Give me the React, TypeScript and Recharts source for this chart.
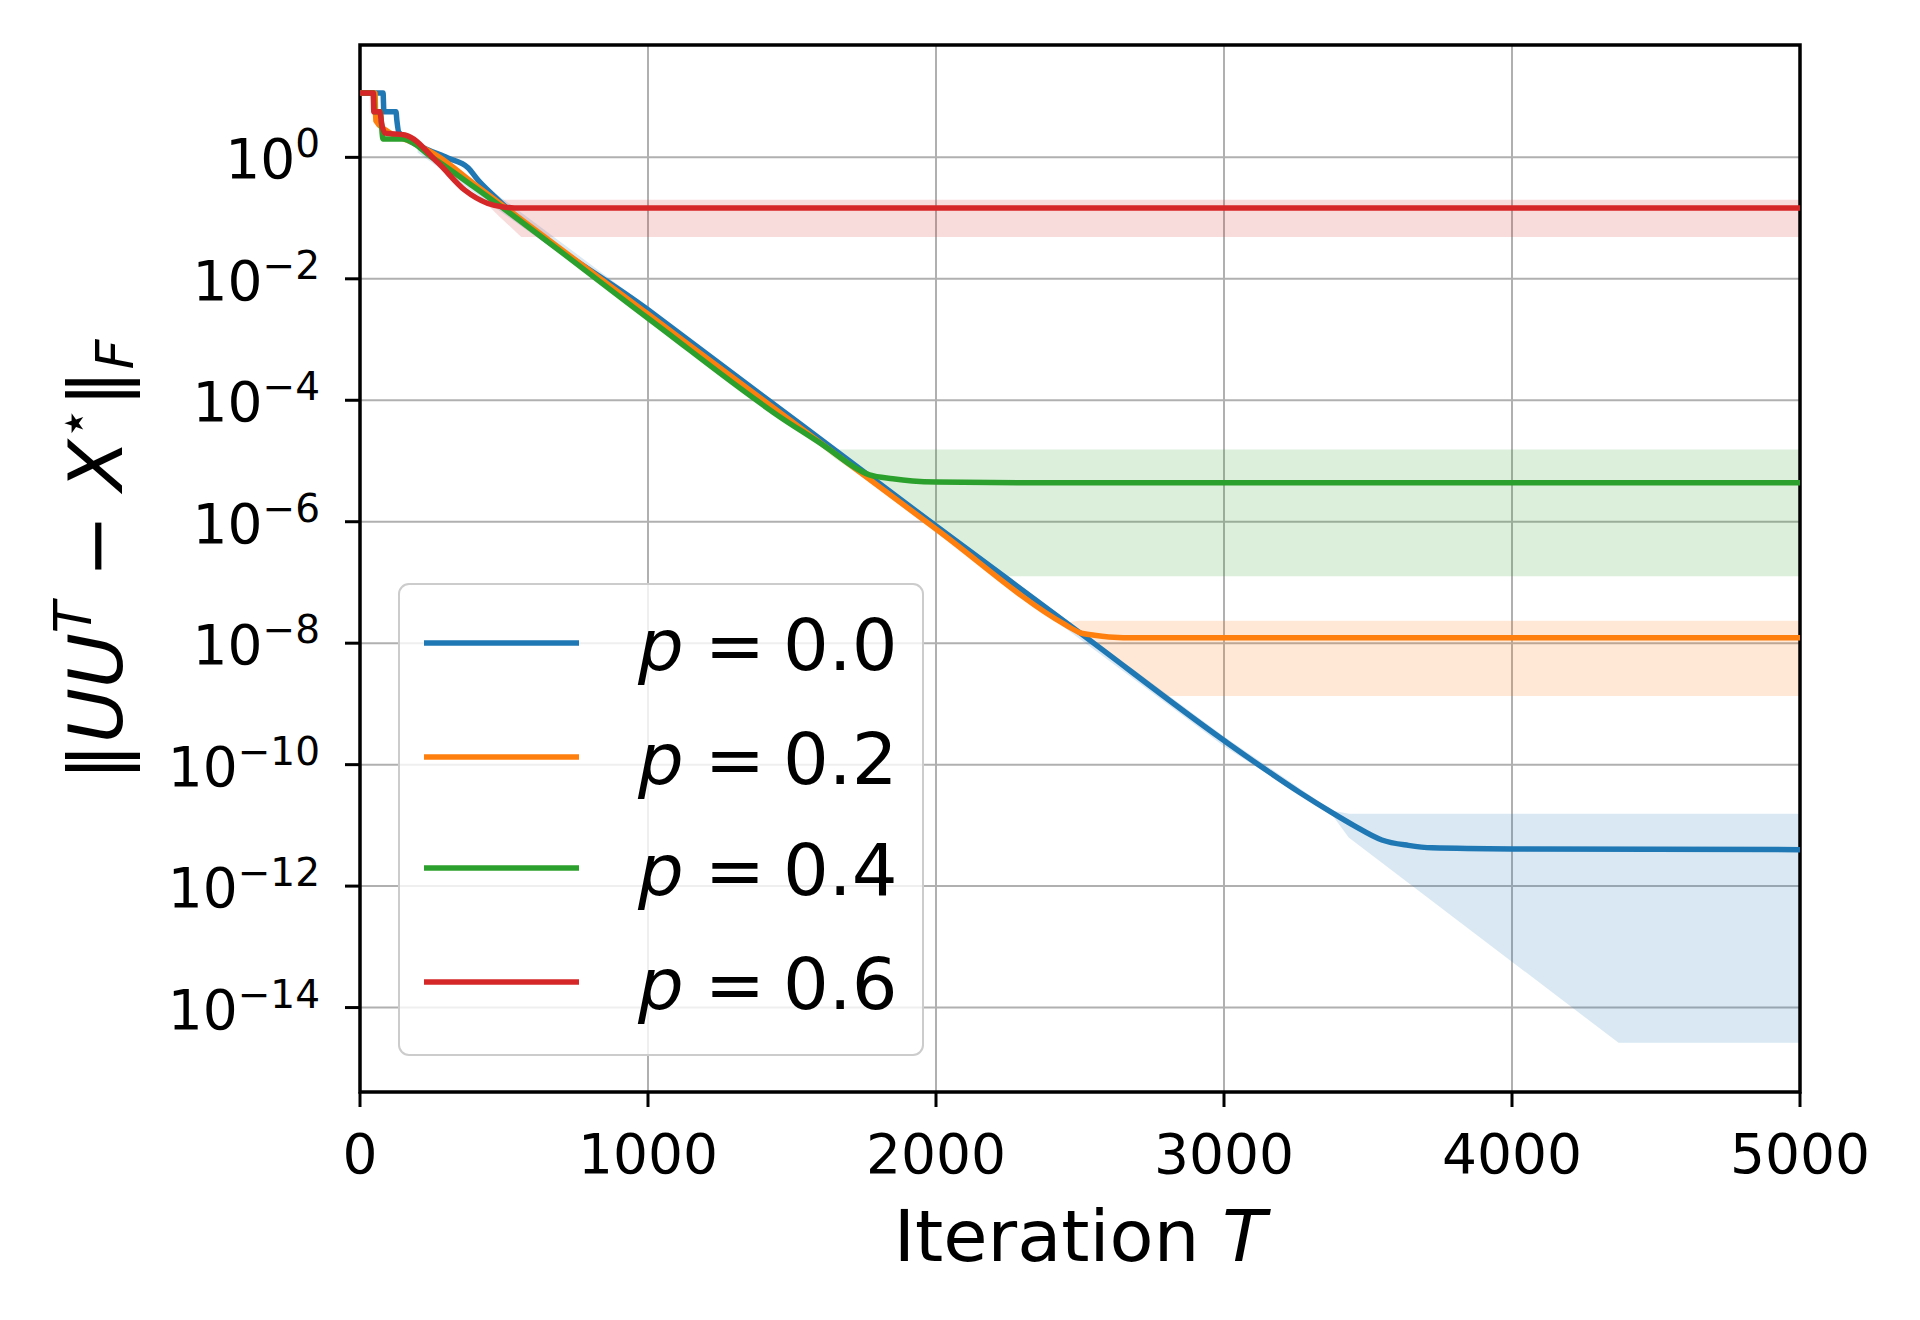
import React from 'react';
import { ComposedChart, Line, Area, XAxis, YAxis, CartesianGrid, ReferenceArea, Legend } from 'recharts';

const xTicks = [0, 1000, 2000, 3000, 4000, 5000];
const yTicks = [1, 1e-2, 1e-4, 1e-6, 1e-8, 1e-10, 1e-12, 1e-14];
const yTickExps = ['0', '−2', '−4', '−6', '−8', '−10', '−12', '−14'];
const yDomain = [4.07e-16, 70.8];
const pLabels = ['0.0', '0.2', '0.4', '0.6'];
const colors = ['#1f77b4', '#ff7f0e', '#2ca02c', '#d62728'];

// mean error, [iteration, ||UU^T - X*||_F]
const meanP00 = [
  [0, 11.5], [80, 11.5], [83, 5.62], [125, 5.62], [128, 4.07], [135, 2.57], [215, 1.48], [305, 0.977],
  [375, 0.676], [409, 0.427], [468, 0.224], [1000, 3.09e-3], [2000, 8.5e-7], [2500, 1.48e-8],
  [3000, 2.5e-10], [3260, 3.55e-11], [3375, 1.62e-11], [3450, 1e-11], [3548, 5.75e-12],
  [3640, 4.68e-12], [3722, 4.27e-12], [4000, 4.1e-12], [5000, 3.98e-12],
];
const meanP02 = [
  [0, 11.5], [52, 11.5], [55, 4.0], [90, 2.8], [180, 1.78], [270, 1.05], [400, 0.355], [1000, 2.63e-3],
  [2000, 7.6e-7], [2450, 2.0e-8], [2497, 1.51e-8], [2550, 1.35e-8], [2600, 1.27e-8], [2700, 1.23e-8],
  [5000, 1.23e-8],
];
const meanP04 = [
  [0, 11.5], [46, 11.5], [50, 5.62], [70, 5.62], [80, 2.0], [150, 2.0], [250, 1.0], [400, 0.316],
  [1000, 2.24e-3], [1457, 5.37e-5], [1630, 1.55e-5], [1700, 8.9e-6], [1769, 5.9e-6], [1850, 5.1e-6],
  [1918, 4.7e-6], [2000, 4.5e-6], [2300, 4.37e-6], [5000, 4.37e-6],
];
const meanP06 = [
  [0, 11.5], [46, 11.5], [48, 5.62], [69, 5.62], [75, 3.63], [87, 2.51], [156, 2.34], [271, 0.813],
  [364, 0.288], [444, 0.174], [503, 0.151], [560, 0.146], [5000, 0.146],
];

// shaded spread, [iteration, low, high]
const bandP00 = [
  [200, 1.2, 1.7], [468, 0.15, 0.26], [1000, 2.4e-3, 3.4e-3], [2000, 6.8e-7, 9.5e-7], [3000, 2.0e-10, 2.9e-10],
  [3375, 1.5e-11, 1.75e-11], [3433, 6.3e-12, 1.55e-11], [4370, 2.63e-15, 1.55e-11], [5000, 2.63e-15, 1.55e-11],
];
const bandP02 = [
  [2450, 1.8e-8, 2.2e-8], [2497, 1.4e-8, 2.34e-8], [2800, 1.35e-9, 2.34e-8], [5000, 1.35e-9, 2.34e-8],
];
const bandP04 = [
  [1600, 1.7e-5, 2.3e-5], [1650, 1.1e-5, 1.55e-5], [2000, 7.9e-7, 1.55e-5], [2230, 1.26e-7, 1.55e-5],
  [5000, 1.26e-7, 1.55e-5],
];
const bandP06 = [
  [440, 0.17, 0.22], [480, 0.11, 0.2], [560, 0.049, 0.2], [5000, 0.049, 0.2],
];

const means = [meanP00, meanP02, meanP04, meanP06].map((pts) => pts.map(([t, v]) => ({ t, v })));
const bands = [bandP00, bandP02, bandP04, bandP06].map((pts) => pts.map(([t, lo, hi]) => ({ t, r: [lo, hi] })));

function XTick(props: any) {
  const { x, y, payload } = props;
  return (
    <text x={x} y={y + 66} textAnchor="middle" fontSize={55} fill="#000">
      {payload.value}
    </text>
  );
}

function YTick(props: any) {
  const { x, y, index } = props;
  return (
    <text x={x - 2} y={y + 21} textAnchor="end" fontSize={55} fill="#000">
      10<tspan fontSize={39} dy={-21}>{yTickExps[index]}</tspan>
    </text>
  );
}

function YLabel() {
  const cx = 122;
  const cy = 560;
  return (
    <text x={cx} y={cy} transform={`rotate(-90 ${cx} ${cy})`} textAnchor="middle" fontSize={75} fill="#000">
      ‖<tspan fontStyle="italic">UU</tspan>
      <tspan fontStyle="italic" fontSize={52} dy={-31}>T</tspan>
      <tspan dy={31}> − </tspan>
      <tspan fontStyle="italic">X</tspan>
      <tspan fontSize={52} dy={-31}>⋆</tspan>
      <tspan dy={31}>‖</tspan>
      <tspan fontStyle="italic" fontSize={52} dy={11}>F</tspan>
    </text>
  );
}

function XLabel() {
  return (
    <text x={1080} y={1261} textAnchor="middle" fontSize={72} fill="#000">
      Iteration <tspan fontStyle="italic">T</tspan>
    </text>
  );
}

function LegendBox() {
  const rows = [60, 174, 285, 399];
  return (
    <svg width={526} height={474} style={{ fontFamily: 'DejaVu Sans' }}>
      <rect x={1} y={1} width={524} height={471} rx={10} fill="#fff" fillOpacity={0.8} stroke="#cccccc" strokeWidth={2} />
      {pLabels.map((p, i) => (
        <g key={p}>
          <line x1={26} x2={181} y1={rows[i]} y2={rows[i]} stroke={colors[i]} strokeWidth={5.5} />
          <text x={240} y={rows[i] + 27} fontSize={72} fill="#000">
            <tspan fontStyle="italic">p</tspan>
            <tspan dx={21}>=</tspan>
            <tspan dx={18}>{p}</tspan>
          </text>
        </g>
      ))}
    </svg>
  );
}

export default function App() {
  return (
    <div style={{ position: 'absolute', left: 0, top: 0, background: '#fff', fontFamily: 'DejaVu Sans' }}>
      <ComposedChart width={1920} height={1320} margin={{ top: 45, right: 120, bottom: 0, left: 0 }}>
        <CartesianGrid stroke="#b0b0b0" strokeWidth={2} />
        <XAxis
          dataKey="t"
          type="number"
          domain={[0, 5000]}
          ticks={xTicks}
          allowDataOverflow
          height={228}
          axisLine={false}
          tickLine={{ stroke: '#000', strokeWidth: 3 }}
          tickSize={15}
          tickMargin={0}
          tick={<XTick />}
          label={<XLabel />}
        />
        <YAxis
          type="number"
          scale="log"
          domain={yDomain}
          ticks={yTicks}
          allowDataOverflow
          width={360}
          axisLine={false}
          tickLine={{ stroke: '#000', strokeWidth: 3 }}
          tickSize={15}
          tickMargin={23}
          tick={<YTick />}
          label={<YLabel />}
        />
        {bands.map((b, i) => (
          <Area
            key={`band${i}`}
            data={b}
            dataKey="r"
            type="linear"
            stroke="none"
            fill={colors[i]}
            fillOpacity={0.17}
            isAnimationActive={false}
            legendType="none"
          />
        ))}
        {means.map((m, i) => (
          <Line
            key={`mean${i}`}
            data={m}
            dataKey="v"
            type="monotone"
            stroke={colors[i]}
            strokeWidth={5.5}
            dot={false}
            isAnimationActive={false}
          />
        ))}
        <ReferenceArea x1={0} x2={5000} y1={yDomain[0]} y2={yDomain[1]} fill="none" stroke="#000" strokeWidth={3.5} />
        <Legend
          layout="vertical"
          align="center"
          verticalAlign="middle"
          content={() => <LegendBox />}
          wrapperStyle={{ left: 398, top: 583, width: 526, height: 474 }}
        />
      </ComposedChart>
    </div>
  );
}
